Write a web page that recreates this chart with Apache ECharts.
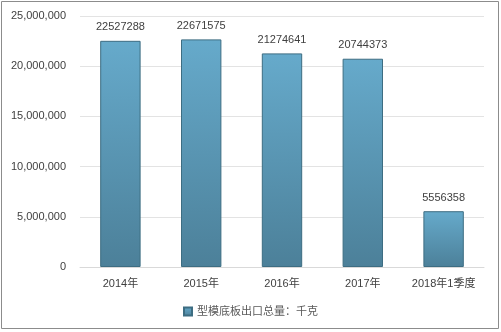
<!DOCTYPE html>
<html><head><meta charset="utf-8">
<script src="https://cdn.jsdelivr.net/npm/echarts@6/dist/echarts.min.js"></script>
<style>html,body{margin:0;padding:0;background:#fff}#c{width:501px;height:332px}</style>
</head><body><div id="c"></div>
<script>
const categories = ['2014年','2015年','2016年','2017年','2018年1季度'];
const values = [22527288, 22671575, 21274641, 20744373, 5556358];
const seriesName = '型模底板出口总量：千克';
const yTicks = [0, 5000000, 10000000, 15000000, 20000000, 25000000];

const chart = echarts.init(document.getElementById('c'));
const font = '"Liberation Sans","Noto Sans CJK SC",sans-serif';
chart.setOption({
  animation: false,
  graphic: [{type:'rect', shape:{x:1.5,y:1.5,width:497,height:327}, style:{fill:'none', stroke:'#8c8c8c', lineWidth:1}, z:-1}],
  grid: {left:80, right:17, top:16, bottom:65},
  legend: {bottom:10, left:'center', itemWidth:8, itemHeight:8, icon:'rect',
    textStyle:{fontFamily:font, fontSize:11, color:'#595959'}, data:[seriesName]},
  xAxis: {type:'category', data:categories,
    axisLine:{lineStyle:{color:'#d9d9d9'}}, axisTick:{show:false},
    axisLabel:{interval:0, fontFamily:font, fontSize:11, color:'#404040', margin:11}},
  yAxis: {type:'value', min:0, max:yTicks[yTicks.length-1], interval:yTicks[1]-yTicks[0],
    axisLine:{show:false}, axisTick:{show:false},
    splitLine:{lineStyle:{color:'#e3e3e3'}},
    axisLabel:{fontFamily:font, fontSize:11, color:'#404040', margin:14,
      formatter:v=>v.toLocaleString('en-US')}},
  series: [{type:'bar', name:seriesName, data:values, barWidth:'50%',
    itemStyle:{color:new echarts.graphic.LinearGradient(0,0,0,1,[{offset:0,color:'#66aacb'},{offset:1,color:'#4c8099'}]),
      borderColor:'#3d6d82', borderWidth:1},
    label:{show:true, position:'top', distance:8, fontFamily:font, fontSize:11, color:'#404040'}}]
});
</script></body></html>
